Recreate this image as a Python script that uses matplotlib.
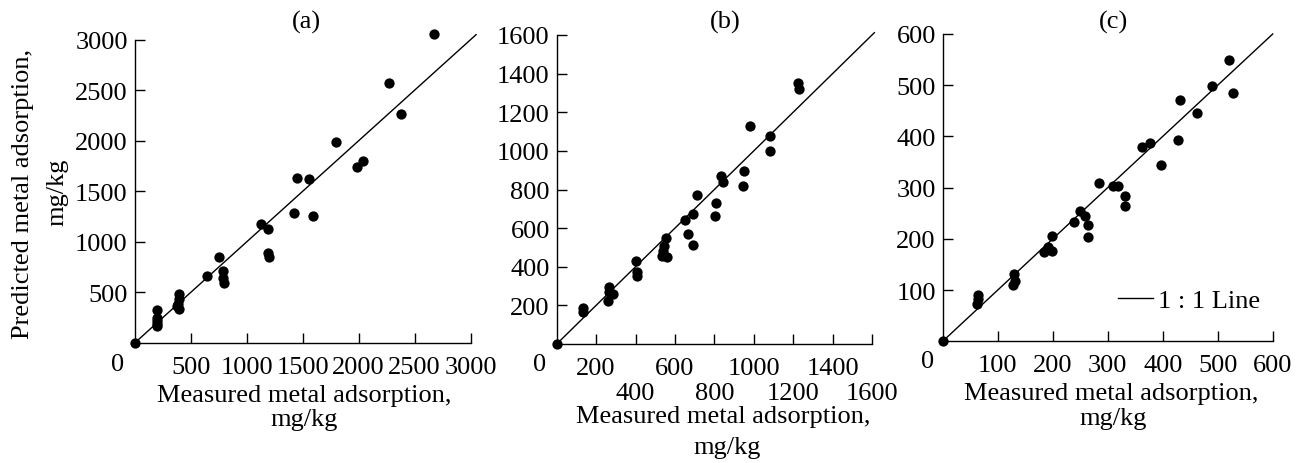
import matplotlib
matplotlib.use('Agg')
import matplotlib.pyplot as plt
import matplotlib.transforms as mtransforms

FS = 19
plt.rcParams['font.family'] = ['Liberation Serif', 'DejaVu Serif']
plt.rcParams['font.size'] = FS

# panel (a)
a_measured = [0, 200, 200, 200, 200, 200, 400, 400, 390, 380, 400, 650, 750, 790, 790, 800,
              1130, 1190, 1190, 1200, 1420, 1450, 1560, 1590, 1800, 1990, 2040, 2270, 2380, 2670]
a_predicted = [0, 330, 250, 220, 190, 170, 480, 440, 385, 365, 340, 660, 850, 710, 640, 590,
               1180, 1125, 890, 850, 1290, 1630, 1620, 1255, 1990, 1740, 1800, 2570, 2270, 3055]
a_ticks = [500, 1000, 1500, 2000, 2500, 3000]

# panel (b)
b_measured = [0, 135, 135, 265, 265, 285, 260, 400, 405, 410, 553, 545, 540, 533, 558,
              650, 668, 693, 693, 710, 810, 805, 833, 842, 948, 943, 981, 1084, 1082, 1222, 1231]
b_predicted = [0, 186, 164, 297, 268, 259, 224, 428, 375, 354, 549, 509, 483, 457, 449,
               642, 570, 673, 513, 773, 730, 661, 870, 840, 894, 818, 1129, 1077, 1001, 1350, 1320]
b_ticks = [200, 400, 600, 800, 1000, 1200, 1400, 1600]

# panel (c)
c_measured = [0, 65, 65, 63, 130, 131, 127, 184, 191, 199, 199, 239, 250, 259, 265, 265,
              284, 310, 319, 332, 332, 362, 377, 397, 427, 432, 463, 490, 521, 527]
c_predicted = [0, 90, 83, 73, 131, 118, 109, 174, 184, 206, 176, 232, 255, 245, 228, 204,
               310, 304, 304, 284, 264, 379, 387, 345, 394, 471, 445, 499, 549, 484]
c_ticks = [100, 200, 300, 400, 500, 600]

W, H = 1302, 464
fig = plt.figure(figsize=(W / 100, H / 100), dpi=100)


def px_box(left, top, right, bottom):
    return [left / W, 1 - bottom / H, (right - left) / W, (bottom - top) / H]


def px_text(x, y, s, **kw):
    fig.text(x / W, 1 - y / H, s, ha='center', va='center', **kw)


def draw_panel(ax, xs, ys, ticks, lim, line_end, zero_off):
    ax.set_xlim(0, lim)
    ax.set_ylim(0, lim)
    for side in ['top', 'right']:
        ax.spines[side].set_visible(False)
    for side in ['left', 'bottom']:
        ax.spines[side].set_linewidth(1.0)
    ax.set_xticks(ticks)
    ax.set_yticks(ticks)
    ax.tick_params(direction='in', length=7, width=1.0, labelsize=FS)
    ax.tick_params(axis='x', pad=9.5)
    ax.tick_params(axis='y', pad=5)
    ax.plot([0, line_end], [0, line_end], color='black', lw=1.0, clip_on=False, zorder=2)
    ax.scatter(xs, ys, s=55, color='black', linewidths=0, clip_on=False, zorder=3)
    tr = mtransforms.offset_copy(ax.transData, fig=fig, x=zero_off[0], y=zero_off[1], units='dots')
    ax.text(0, 0, '0', transform=tr, ha='center', va='center', fontsize=FS)


ax_a = fig.add_axes(px_box(134.7, 40.7, 470.5, 344))
draw_panel(ax_a, a_measured, a_predicted, a_ticks, 3000, 3050, (-16.7, -21))

ax_b = fig.add_axes(px_box(556.7, 36, 872, 345))
draw_panel(ax_b, b_measured, b_predicted, b_ticks, 1600, 1612, (-16.7, -20))
# every second label of (b) sits one row lower
for i, tick in enumerate(ax_b.xaxis.get_major_ticks()):
    if i % 2 == 1:
        tick.set_pad(27.5)

ax_c = fig.add_axes(px_box(942.7, 35, 1272.7, 342.3))
draw_panel(ax_c, c_measured, c_predicted, c_ticks, 600, 600, (-15.4, -19.4))
ax_c.legend(['1 : 1 Line'], loc='center right', bbox_to_anchor=(0.962, 0.132),
            frameon=False, borderaxespad=0, borderpad=0, handlelength=1.3,
            handletextpad=0.2, fontsize=FS)
ax_c.get_legend().legend_handles[0].set_linewidth(1.0)

# titles
px_text(306, 22, '(a)')
px_text(725, 22, '(b)')
px_text(1113, 22, '(c)')

# x labels
px_text(304, 396, 'Measured metal adsorption,')
px_text(304, 420, 'mg/kg')
px_text(723, 417, 'Measured metal adsorption,')
px_text(727, 448, 'mg/kg')
px_text(1111, 394, 'Measured metal adsorption,')
px_text(1113, 419, 'mg/kg')

# y label
px_text(23, 194, 'Predicted metal adsorption,', rotation=90)
px_text(57, 192, 'mg/kg', rotation=90)

fig.savefig('out.png', dpi=100)
